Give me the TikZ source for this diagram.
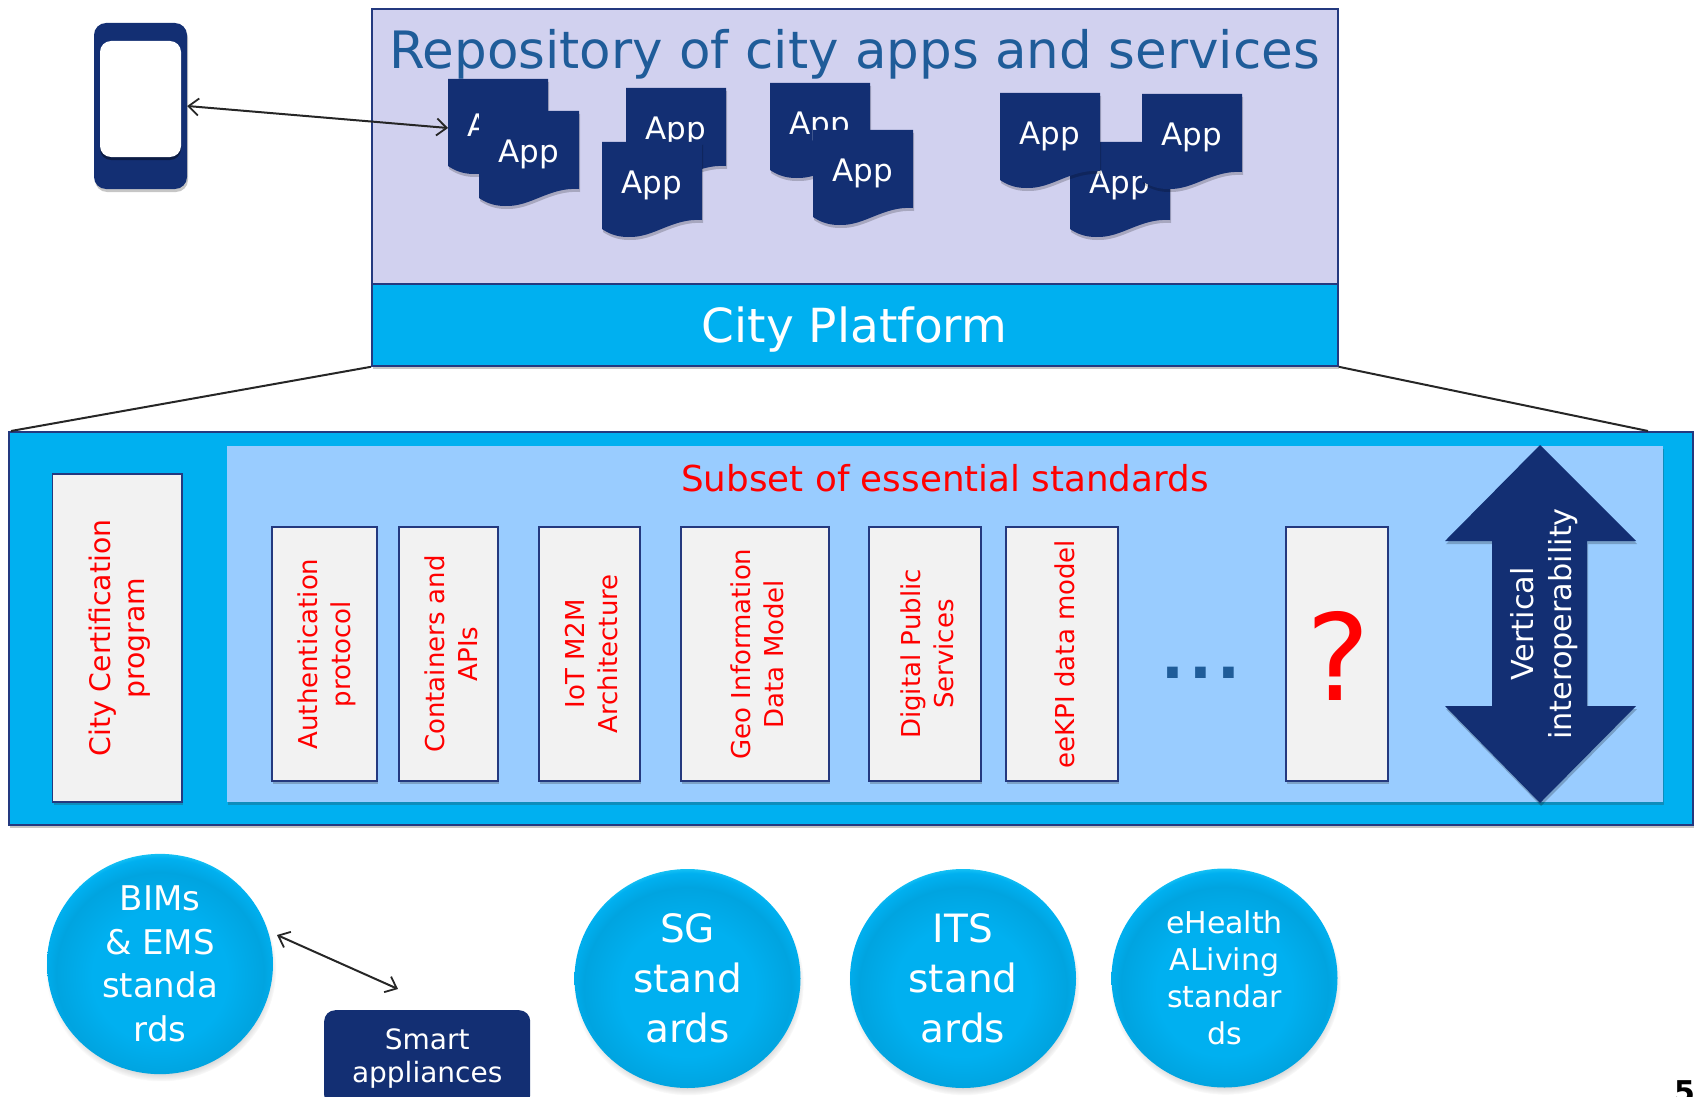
\documentclass[tikz,border=0pt]{standalone}
\usepackage{fontspec}
\setmainfont{DejaVu Sans}
\usetikzlibrary{shadows,shapes.geometric,arrows.meta}
\definecolor{navy}{HTML}{132F73}
\definecolor{edgeblue}{HTML}{24397F}
\definecolor{lav}{HTML}{D1D1EF}
\definecolor{cyanbar}{HTML}{00B0F0}
\definecolor{skyin}{HTML}{99CCFF}
\definecolor{greybox}{HTML}{F2F2F2}
\definecolor{titleblue}{HTML}{1F5C99}
\definecolor{rimtop}{HTML}{45E8FF}
\definecolor{bodylow}{HTML}{00A4E0}
\pgfdeclareradialshading{ballshade}{\pgfpoint{0bp}{-4bp}}{
 color(0bp)=(cyanbar);
 color(15bp)=(cyanbar);
 color(23bp)=(bodylow);
 color(26bp)=(cyanbar);
 color(29bp)=(rimtop);
 color(50bp)=(rimtop)}
\newcommand{\fs}[2]{\fontsize{#1}{#2}\selectfont}
\newcommand{\rotlab}[1]{\rotatebox{90}{\parbox{245pt}{\centering\vspace*{5pt}\fs{26}{33}\color{red}#1}}}
\newcommand{\appdoc}[4]{%
  \fill[docshadow,shift={(#2,#3)}] (0,0) -- (100,0) -- (100,78) .. controls (70,76) and (52,96) .. (26,95) .. controls (14,95) and (6,91) .. (0,87) -- cycle;
  \fill[navy,shift={(#2,#3)}] (0,0) -- (100,0) -- (100,78) .. controls (70,76) and (52,96) .. (26,95) .. controls (14,95) and (6,91) .. (0,87) -- cycle;
  \node[appnode] (#1) at (#2+50,#3+#4) {App};}
\tikzset{
  softshadow/.style={drop shadow={shadow xshift=1pt,shadow yshift=-3pt,opacity=.28,fill=black!80}},
  docshadow/.style={black,opacity=.2,xshift=1pt,yshift=-3pt},
  appnode/.style={minimum width=100pt,minimum height=78pt,inner sep=0pt,text=white,font=\fs{31}{36}},
  panel/.style={rectangle,draw=edgeblue,line width=1.8pt,inner sep=0pt,anchor=north west},
  stdbox/.style={rectangle,draw=edgeblue,fill=greybox,line width=1.7pt,inner sep=0pt,softshadow},
  ball/.style={ellipse,inner sep=0pt,shading=ballshade,text=white,align=center,circular drop shadow={shadow xshift=1pt,shadow yshift=-5pt,shadow scale=1.02,opacity=.45,fill=black!70}},
  link/.style={black!85,line width=2pt},
  biarrow/.style={link,{Straight Barb[length=10pt,width=17pt,line width=1.8pt]}-{Straight Barb[length=10pt,width=17pt,line width=1.8pt]}}
}
\begin{document}
\begin{tikzpicture}[x=1pt,y=-1pt]
\useasboundingbox (0,0) rectangle (1694,1097);
\clip (0,0) rectangle (1694,1097);
% phone
\node[rectangle,rounded corners=12pt,fill=navy,minimum width=93pt,minimum height=166pt,inner sep=0pt,softshadow] (phone) at (140.5,106) {};
\node[rectangle,rounded corners=11pt,fill=white,minimum width=81pt,minimum height=116pt,inner sep=0pt,drop shadow={shadow xshift=0pt,shadow yshift=-3pt,opacity=.4,fill=black}] (screen) at (140.5,99) {};
% repository + platform
\node[panel,fill=lav,minimum width=966pt,minimum height=275pt,softshadow] (repo) at (371,8) {};
\node[panel,fill=cyanbar,minimum width=966pt,minimum height=82pt,softshadow] (platform) at (371,283) {};
\node[text=titleblue,font=\fs{51.5}{60},inner sep=0pt] (repotitle) at (854.5,54) {Repository of city apps and services};
\node[text=white,font=\fs{47}{52},inner sep=0pt] (platformtitle) at (854.5,330) {City Platform};
% apps
\appdoc{a1}{448}{79}{49}
\appdoc{a2}{479}{111}{43}
\appdoc{b1}{626}{88}{43}
\appdoc{b2}{602}{142}{43}
\appdoc{c1}{770}{83}{43}
\appdoc{c2}{813}{130}{43}
\appdoc{d2}{1070}{142}{43}
\appdoc{d1}{1000}{93}{43}
\appdoc{d3}{1142}{94}{43}
\coordinate (a1port) at (448,128);
\draw[biarrow] (phone.east) -- (a1port);
% main panel
\node[panel,fill=cyanbar,minimum width=1684pt,minimum height=393pt,softshadow] (main) at (8,431) {};
\draw[link] (platform.south west) -- ([xshift=3pt]main.north west);
\coordinate (mainright) at (1648,431);
\draw[link] (platform.south east) -- (mainright);
\node[rectangle,fill=skyin,anchor=north west,minimum width=1436.5pt,minimum height=356pt,inner sep=0pt,softshadow] (inner) at (226.5,446) {};
\node[text=red,font=\fs{35.7}{42},inner sep=0pt] (subset) at (945,478) {Subset of essential standards};
\node[stdbox,minimum width=129.5pt,minimum height=328pt] (cert) at (117.25,638) {\rotlab{\fs{28.3}{34}City Certification\\program}};
\node[stdbox,minimum width=105pt,minimum height=254pt] (auth) at (324.5,654) {\rotlab{Authentication\\protocol}};
\node[stdbox,minimum width=99pt,minimum height=254pt] (cont) at (448.5,654) {\rotlab{Containers and\\APIs}};
\node[stdbox,minimum width=101pt,minimum height=254pt] (iot) at (589.5,654) {\rotlab{IoT M2M\\Architecture}};
\node[stdbox,minimum width=148pt,minimum height=254pt] (geo) at (755,654) {\rotlab{Geo Information\\Data Model}};
\node[stdbox,minimum width=112pt,minimum height=254pt] (digi) at (925,654) {\rotlab{Digital Public\\Services}};
\node[stdbox,minimum width=112pt,minimum height=254pt] (kpi) at (1062,654) {\rotlab{eeKPI data model}};
\node[text=titleblue,font=\bfseries\fs{60}{70},anchor=base,inner sep=0pt] (dots) at (1201,678) {.\kern5pt.\kern5pt.};
\node[stdbox,minimum width=102pt,minimum height=254pt] (unk) at (1337,654) {};
\node[text=red,font=\fs{120}{130},inner sep=0pt] (qm) at (1338,656) {?};
% vertical arrow
\fill[black,opacity=.22,xshift=1pt,yshift=-3pt] (1540,445) -- (1636,541) -- (1587,541) -- (1587,706) -- (1636,706) -- (1540,803) -- (1445,706) -- (1492,706) -- (1492,541) -- (1445,541) -- cycle;
\fill[navy] (1540,445) -- (1636,541) -- (1587,541) -- (1587,706) -- (1636,706) -- (1540,803) -- (1445,706) -- (1492,706) -- (1492,541) -- (1445,541) -- cycle;
\node[inner sep=0pt] (vint) at (1544,624) {\rotatebox{90}{\parbox{260pt}{\centering\fs{30.3}{38}\color{white}Vertical\\interoperability}}};
% balls
\node[ball,minimum width=226pt,minimum height=219pt,font=\fs{34}{43.5}] (bims) at (160,964) {BIMs\\\& EMS\\standa\\rds};
\node[ball,minimum width=226pt,minimum height=219pt,font=\fs{39}{50}] (sg) at (687.5,978.5) {SG\\stand\\ards};
\node[ball,minimum width=226pt,minimum height=219pt,font=\fs{39}{50}] (its) at (963,978.5) {ITS\\stand\\ards};
\node[ball,minimum width=226pt,minimum height=219pt,font=\fs{30}{37}] (ehl) at (1224.5,978) {eHealth\\ALiving\\standar\\ds};
% appliances
\node[rectangle,rounded corners=11pt,fill=navy,anchor=north west,minimum width=206pt,minimum height=96pt,inner sep=0pt,text=white,align=center,font=\fs{28}{33}] (smart) at (324,1010) {Smart\\appliances};
\coordinate (bimsport) at (277,935);
\coordinate (smartport) at (398,989);
\draw[biarrow] (bimsport) -- (smartport);
\node[anchor=north west,inner sep=0pt,font=\bfseries\fs{30}{36}] (pageno) at (1674,1080) {5};
\end{tikzpicture}
\end{document}
